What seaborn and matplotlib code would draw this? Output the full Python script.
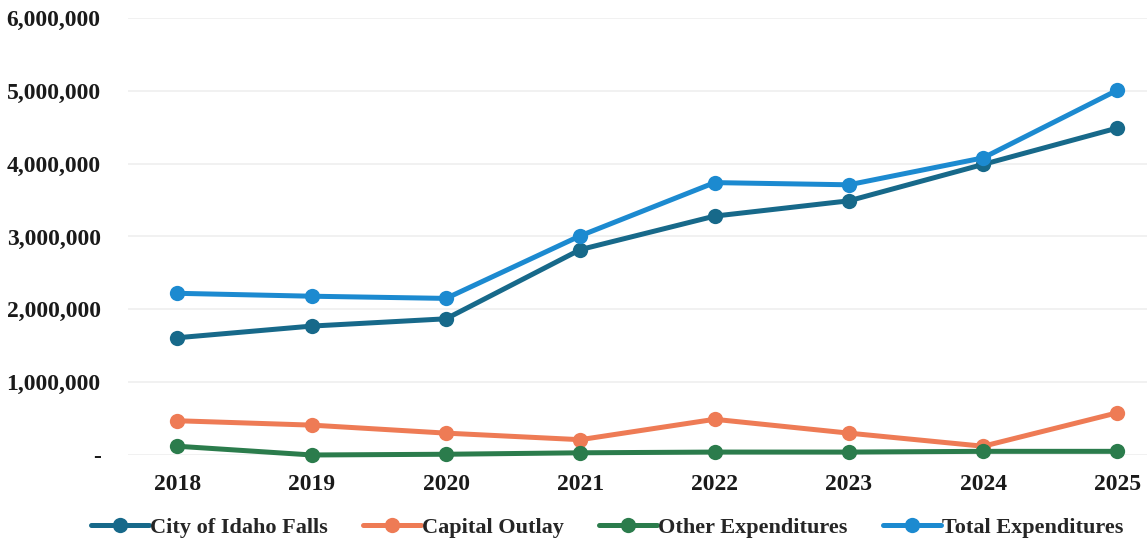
import numpy as np
import pandas as pd
import matplotlib
matplotlib.use("Agg")
import matplotlib.pyplot as plt
import seaborn as sns
from matplotlib.ticker import FuncFormatter

# =====================================================
# Data
# =====================================================
years = ["2018", "2019", "2020", "2021", "2022", "2023", "2024", "2025"]
city_idaho_falls = [1610000, 1770000, 1870000, 2820000, 3280000, 3490000, 3990000, 4490000]
capital_outlay = [470000, 410000, 300000, 210000, 490000, 300000, 120000, 580000]
other_expenditures = [120000, 0, 10000, 30000, 40000, 40000, 50000, 50000]
total_expenditures = [2220000, 2180000, 2150000, 3010000, 3740000, 3710000, 4080000, 5010000]

series_names = ["City of Idaho Falls", "Capital Outlay", "Other Expenditures", "Total Expenditures"]
series_values = [city_idaho_falls, capital_outlay, other_expenditures, total_expenditures]
colors = ["#17698a", "#ee7b55", "#2b7c4c", "#1c8ad0"]

df = pd.concat(
    [pd.DataFrame({"Year": years, "Value": v, "Series": n}) for n, v in zip(series_names, series_values)],
    ignore_index=True,
)

# =====================================================
# Plot
# =====================================================
sns.set_theme(style="white")
plt.rcParams["font.family"] = ["Liberation Serif", "DejaVu Serif"]
plt.rcParams["font.weight"] = "bold"

fig = plt.figure(figsize=(11.47, 5.46), dpi=100)
ax = fig.add_axes([0.112, 0.1667, 0.888, 0.8003])

sns.lineplot(
    data=df, x="Year", y="Value", hue="Series", hue_order=series_names,
    palette=colors, marker="o", markersize=11, markeredgewidth=0,
    linewidth=3.6, sort=False, ax=ax, clip_on=False,
)

ax.set_ylim(0, 6000000)
ax.set_xlim(-0.365, 7.22)
ax.set_yticks(np.arange(0, 6000001, 1000000))
ax.yaxis.set_major_formatter(FuncFormatter(lambda v, p: "-" if v == 0 else f"{int(v):,}"))
ax.grid(axis="y", color="#efefef", linewidth=1.2)
ax.set_axisbelow(True)
for s in ax.spines.values():
    s.set_visible(False)

ax.set_xlabel("")
ax.set_ylabel("")
ax.tick_params(axis="both", length=0, labelsize=17, labelcolor="#1a1a1a")
ax.tick_params(axis="y", pad=20)
ax.tick_params(axis="x", pad=14)
for lbl in ax.get_xticklabels() + ax.get_yticklabels():
    lbl.set_fontweight("bold")

handles, labels = ax.get_legend_handles_labels()
ax.legend(
    handles, labels, loc="center", bbox_to_anchor=(0.47, -0.167),
    ncol=4, frameon=False, handlelength=2.6, handletextpad=0.05,
    columnspacing=1.6, prop={"size": 16, "weight": "bold"},
)

plt.savefig("out.png", dpi=100)
plt.close()
